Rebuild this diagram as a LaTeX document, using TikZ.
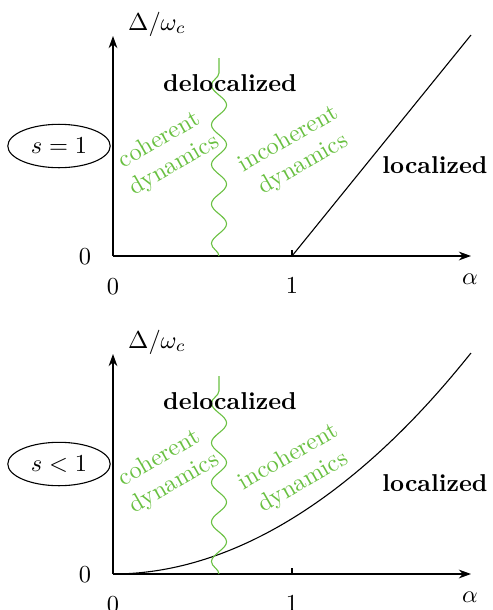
\documentclass[tikz,border=0pt]{standalone}
\usetikzlibrary{arrows.meta,decorations.pathmorphing,shapes.geometric}
\definecolor{lgreen}{RGB}{105,192,65}
\begin{document}
\begin{tikzpicture}[x=0.41pt,y=-0.41pt,
  axis/.style={line width=0.45pt,-{Stealth[length=5pt,width=3.6pt]}},
  wave/.style={lgreen,line width=0.45pt,decorate,decoration={snake,amplitude=3.1pt,segment length=16.24pt}},
  phase/.style={line width=0.45pt},
  region/.style={font=\bfseries,inner sep=0pt},
  dyn/.style={lgreen,align=center,rotate=30,inner sep=0pt},
  lab/.style={inner sep=0pt},
  sbox/.style={draw,ellipse,line width=0.45pt,minimum width=42pt,minimum height=17.8pt,inner sep=0pt}]
\useasboundingbox (0,0) rectangle (492,610);
% ---------- top panel ----------
\begin{scope}
  \coordinate (o1) at (113,256);
  \coordinate (xe1) at (471,256);
  \coordinate (ye1) at (113,36);
  \coordinate (t1) at (292,256);
  \coordinate (pe1) at (471,35);
  \coordinate (wb1) at (219,256);
  \coordinate (wt1) at (219,58);
  \draw[axis] (o1) -- (xe1);
  \draw[axis] (o1) -- (ye1);
  \draw[phase] (t1) -- ++(0,-6);
  \draw[phase] (t1) -- (pe1);
  \draw[wave] (wb1) -- (wt1);
  \node[lab] (yl1) at (157,24) {$\Delta/\omega_c$};
  \node[lab] (z1) at (85,257) {$0$};
  \node[lab] (zx1) at (113,287) {$0$};
  \node[lab] (one1) at (292,286) {$1$};
  \node[lab] (al1) at (470,279) {$\alpha$};
  \node[region] (del1) at (230,83) {delocalized};
  \node[region] (loc1) at (435,165) {localized};
  \node[dyn] (coh1) at (167,153) {coherent\\dynamics};
  \node[dyn] (inc1) at (296,152) {incoherent\\dynamics};
  \node[sbox] (s1) at (59,146) {$s=1$};
\end{scope}
% ---------- bottom panel ----------
\begin{scope}[shift={(0,318)}]
  \coordinate (o2) at (113,256);
  \coordinate (xe2) at (471,256);
  \coordinate (ye2) at (113,36);
  \coordinate (t2) at (292,256);
  \coordinate (pe2) at (471,35);
  \coordinate (wb2) at (219,256);
  \coordinate (wt2) at (219,58);
  \draw[axis] (o2) -- (xe2);
  \draw[axis] (o2) -- (ye2);
  \draw[phase] (t2) -- ++(0,-6);
  \draw[phase] (o2) parabola (pe2);
  \draw[wave] (wb2) -- (wt2);
  \node[lab] (yl2) at (157,24) {$\Delta/\omega_c$};
  \node[lab] (z2) at (85,257) {$0$};
  \node[lab] (zx2) at (113,287) {$0$};
  \node[lab] (one2) at (292,286) {$1$};
  \node[lab] (al2) at (470,279) {$\alpha$};
  \node[region] (del2) at (230,83) {delocalized};
  \node[region] (loc2) at (435,165) {localized};
  \node[dyn] (coh2) at (167,153) {coherent\\dynamics};
  \node[dyn] (inc2) at (296,152) {incoherent\\dynamics};
  \node[sbox] (s2) at (59,146) {$s<1$};
\end{scope}
\end{tikzpicture}
\end{document}
